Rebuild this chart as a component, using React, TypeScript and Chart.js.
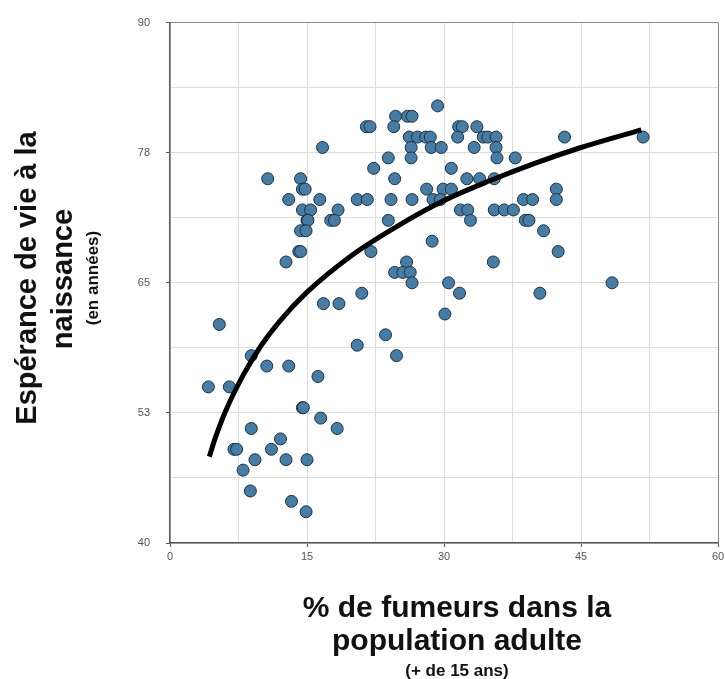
import React, { useEffect, useRef } from "react";
import { Chart, registerables } from "chart.js";

Chart.register(...registerables);

// Tick labels (shown on every other grid line)
const xTickLabels = ["0", "15", "30", "45", "60"];
const yTickLabels = ["40", "53", "65", "78", "90"];

// % of smokers in adult population (x) and life expectancy (y), one entry per country
const smokers = [
  29.3,
  24.7, 26.0, 26.5,
  21.5, 21.9, 24.5, 31.6, 32.0, 33.6,
  26.2, 27.1, 28.0, 28.5, 31.5, 34.3, 34.8, 35.7, 43.2, 51.8,
  16.7, 26.4, 28.6, 29.7, 33.3, 35.7,
  23.9, 26.4, 35.8, 37.8,
  22.3, 30.8,
  10.7, 14.3, 24.6, 32.5, 33.9, 35.5,
  14.5, 14.8, 28.1, 29.9, 30.8, 42.3,
  13.0, 16.4, 20.5, 21.6, 24.2, 26.5, 28.8, 29.6, 38.7, 39.7, 42.3,
  14.5, 15.4, 18.4, 31.8, 32.6, 35.5, 36.6, 37.6,
  15.0, 15.1, 17.6, 18.0, 23.9, 32.9, 38.9, 39.3,
  14.3, 14.9, 40.9,
  28.7,
  14.1, 14.3, 22.0, 42.5,
  12.7, 25.9, 35.4,
  24.6, 25.5, 26.3,
  26.5, 30.5, 48.4,
  21.0, 31.7, 40.5,
  16.8, 18.5,
  30.1,
  5.4,
  23.6,
  20.5,
  8.9, 24.8,
  10.6, 13.0,
  16.2,
  4.2, 6.5,
  14.5, 14.6,
  16.5,
  8.9, 18.3,
  12.1,
  7.0, 7.3, 11.1,
  9.3, 12.7, 15.0,
  8.0,
  8.8,
  13.3,
  14.9,
];

const lifeExpectancy = [
  82,
  81, 81, 81,
  80, 80, 80, 80, 80, 80,
  79, 79, 79, 79, 79, 79, 79, 79, 79, 79,
  78, 78, 78, 78, 78, 78,
  77, 77, 77, 77,
  76, 76,
  75, 75, 75, 75, 75, 75,
  74, 74, 74, 74, 74, 74,
  73, 73, 73, 73, 73, 73, 73, 73, 73, 73, 73,
  72, 72, 72, 72, 72, 72, 72, 72,
  71, 71, 71, 71, 71, 71, 71, 71,
  70, 70, 70,
  69,
  68, 68, 68, 68,
  67, 67, 67,
  66, 66, 66,
  65, 65, 65,
  64, 64, 64,
  63, 63,
  62,
  61,
  60,
  59,
  58, 58,
  57, 57,
  56,
  55, 55,
  53, 53,
  52,
  51, 51,
  50,
  49, 49, 49,
  48, 48, 48,
  47,
  45,
  44,
  43,
];

// Trend curve
const trendX = [4.3, 5, 6, 8, 10, 12, 15, 20, 25, 30, 35, 40, 45, 51.6];
const trendY = [48.3, 50.2, 52.5, 56.1, 59.0, 61.3, 64.1, 67.7, 70.5, 72.9, 74.8, 76.5, 78.0, 79.7];

const FONT = "'Liberation Sans', Arial, Helvetica, sans-serif";

export default function App() {
  const canvasRef = useRef<HTMLCanvasElement | null>(null);

  useEffect(() => {
    const canvas = canvasRef.current;
    if (!canvas) return;

    const points = smokers.map((x, i) => ({ x, y: lifeExpectancy[i] }));
    const trend = trendX.map((x, i) => ({ x, y: trendY[i] }));

    const chart = new Chart(canvas, {
      type: "scatter",
      data: {
        datasets: [
          {
            type: "line",
            data: trend,
            borderColor: "#000000",
            borderWidth: 5,
            pointRadius: 0,
            showLine: true,
            fill: false,
            cubicInterpolationMode: "monotone",
            borderCapStyle: "butt",
          } as any,
          {
            data: points,
            backgroundColor: "#497ca3",
            borderColor: "#1b3043",
            borderWidth: 1,
            pointRadius: 6,
          },
        ],
      },
      options: {
        animation: false,
        responsive: false,
        maintainAspectRatio: false,
        events: [],
        layout: { padding: { left: 0, top: 22, right: 3, bottom: 0 } },
        plugins: {
          legend: { display: false },
          tooltip: { enabled: false },
          title: { display: false },
        },
        scales: {
          x: {
            type: "linear",
            min: 0,
            max: 60,
            afterFit: (scale: any) => {
              scale.height = 136;
              scale.paddingLeft = 0;
              scale.paddingRight = 0;
            },
            ticks: {
              stepSize: 7.5,
              autoSkip: false,
              maxRotation: 0,
              padding: 3,
              color: "#555555",
              font: { family: FONT, size: 11 },
              callback: (_v: any, i: number) => (i % 2 === 0 ? xTickLabels[i / 2] : ""),
            },
            grid: {
              color: (ctx: any) => (ctx.index === 8 ? "#8a8a8a" : "#dddddd"),
              lineWidth: 1,
              tickLength: 4,
              tickColor: (ctx: any) => (ctx.index % 2 === 0 ? "#555555" : "rgba(0,0,0,0)"),
            },
            border: { color: "#555555", width: 1.5 },
          },
          y: {
            type: "linear",
            min: 40,
            max: 90,
            afterFit: (scale: any) => {
              scale.width = 170;
            },
            ticks: {
              stepSize: 6.25,
              autoSkip: false,
              padding: 16,
              color: "#555555",
              font: { family: FONT, size: 11 },
              callback: (_v: any, i: number) => (i % 2 === 0 ? yTickLabels[i / 2] : ""),
            },
            grid: {
              color: (ctx: any) => (ctx.index === 8 ? "#8a8a8a" : "#dddddd"),
              lineWidth: 1,
              tickLength: 4,
              tickColor: (ctx: any) => (ctx.index % 2 === 0 ? "#555555" : "rgba(0,0,0,0)"),
            },
            border: { color: "#555555", width: 1.5 },
          },
        },
      },
    });

    return () => chart.destroy();
  }, []);

  const big: React.CSSProperties = {
    position: "absolute",
    fontFamily: FONT,
    fontWeight: "bold",
    color: "#111111",
    whiteSpace: "nowrap",
    transform: "translate(-50%, -50%)",
  };
  const rot: React.CSSProperties = { ...big, transform: "translate(-50%, -50%) rotate(-90deg)" };

  return (
    <div style={{ position: "fixed", left: 0, top: 0, width: 725, height: 679, background: "#ffffff" }}>
      <canvas ref={canvasRef} width={725} height={679} style={{ position: "absolute", left: 0, top: 0 }} />
      <div style={{ ...rot, left: 26, top: 278, fontSize: 29, lineHeight: "29px" }}>Espérance de vie à la</div>
      <div style={{ ...rot, left: 62, top: 279, fontSize: 29, lineHeight: "29px" }}>naissance</div>
      <div style={{ ...rot, left: 92, top: 278, fontSize: 17, lineHeight: "17px" }}>(en années)</div>
      <div style={{ ...big, left: 457, top: 607, fontSize: 30, lineHeight: "30px" }}>% de fumeurs dans la</div>
      <div style={{ ...big, left: 457, top: 640, fontSize: 30, lineHeight: "30px" }}>population adulte</div>
      <div style={{ ...big, left: 457, top: 670, fontSize: 17, lineHeight: "17px" }}>(+ de 15 ans)</div>
    </div>
  );
}
